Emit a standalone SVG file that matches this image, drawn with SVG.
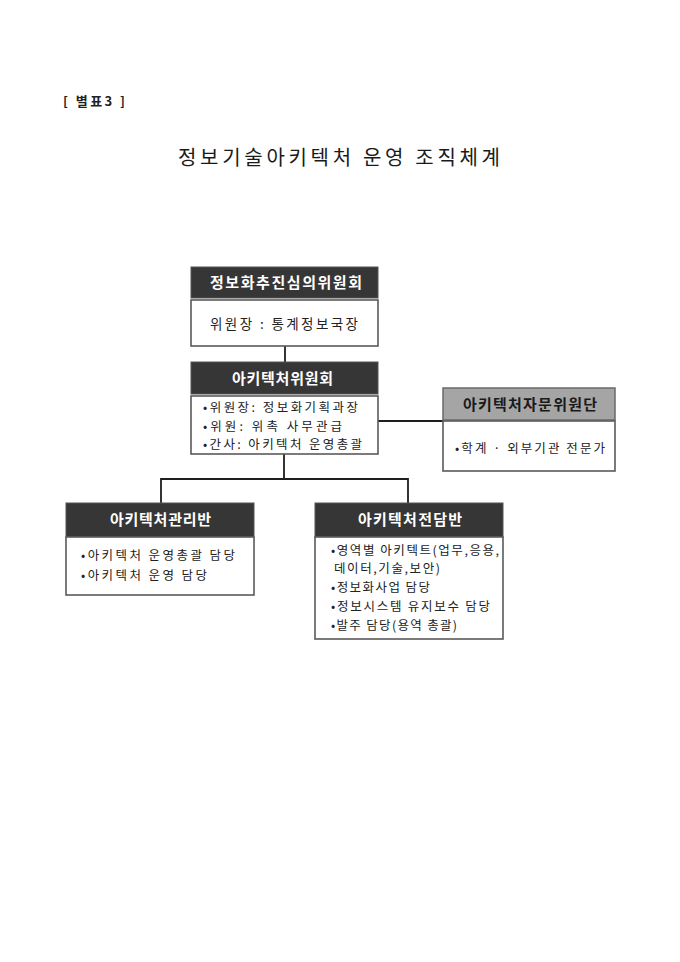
<svg xmlns="http://www.w3.org/2000/svg" width="680" height="962" viewBox="0 0 680 962">
<style>
  text { font-family: "Malgun Gothic", "Noto Sans CJK KR", "Noto Sans", sans-serif; }
  .hdr { fill: #363636; stroke: #555555; stroke-width: 1; }
  .hdr-gray { fill: #a5a5a5; stroke: #6a6a6a; stroke-width: 1.5; }
  .body { fill: #ffffff; stroke: #5a5a5a; stroke-width: 1.6; }
  .ht { fill: #ffffff; font-size: 15px; font-weight: bold; }
  .htd { fill: #1a1a1a; font-size: 15px; font-weight: bold; }
  .it { fill: #222222; font-size: 12.5px; }
  .conn { stroke: #1e1e1e; stroke-width: 1.8; fill: none; }
</style>
<rect width="680" height="962" fill="#ffffff"/>
<text x="63" y="106" style="font-size:13px;font-weight:bold;fill:#222" xml:space="preserve" textLength="62" lengthAdjust="spacing">[ 별표3 ]</text>
<text x="178" y="165" style="font-size:20px;fill:#1a1a1a" textLength="322" lengthAdjust="spacing">정보기술아키텍처 운영 조직체계</text>

<g id="connectors">
  <path class="conn" d="M285,346 V362"/>
  <path class="conn" d="M378,421 H443"/>
  <path class="conn" d="M284,454 V479 M161,479 H408 M161,478 V503 M408,478 V503"/>
</g>

<g id="node-council">
  <rect class="hdr" x="191" y="267" width="187" height="31"/>
  <text class="ht" x="210" y="288" textLength="152" lengthAdjust="spacing">정보화추진심의위원회</text>
  <rect class="body" x="191" y="300" width="187" height="46"/>
  <text class="it" x="210" y="329" style="font-size:13.5px" textLength="148" lengthAdjust="spacing">위원장 : 통계정보국장</text>
</g>

<g id="node-committee">
  <rect class="hdr" x="191" y="362" width="187" height="32"/>
  <text class="ht" x="232" y="384" textLength="101" lengthAdjust="spacing">아키텍처위원회</text>
  <rect class="body" x="191" y="396" width="187" height="58"/>
  <text class="it" x="203" y="412" textLength="155" lengthAdjust="spacing">•위원장: 정보화기획과장</text>
  <text class="it" x="203" y="431" textLength="139" lengthAdjust="spacing">•위원: 위촉 사무관급</text>
  <text class="it" x="203" y="449" textLength="159" lengthAdjust="spacing">•간사: 아키텍처 운영총괄</text>
</g>

<g id="node-advisory">
  <rect class="hdr-gray" x="443" y="388" width="172" height="32"/>
  <text class="htd" x="463" y="410" textLength="134" lengthAdjust="spacing">아키텍처자문위원단</text>
  <rect class="body" x="443" y="421" width="172" height="50"/>
  <text class="it" x="455" y="453" textLength="150" lengthAdjust="spacing">•학계 · 외부기관 전문가</text>
</g>

<g id="node-management">
  <rect class="hdr" x="66" y="503" width="188" height="34"/>
  <text class="ht" x="110" y="525" textLength="101" lengthAdjust="spacing">아키텍처관리반</text>
  <rect class="body" x="66" y="537" width="188" height="58"/>
  <text class="it" x="81" y="560" textLength="154" lengthAdjust="spacing">•아키텍처 운영총괄 담당</text>
  <text class="it" x="81" y="580" textLength="126" lengthAdjust="spacing">•아키텍처 운영 담당</text>
</g>

<g id="node-dedicated">
  <rect class="hdr" x="315" y="503" width="188" height="34"/>
  <text class="ht" x="358" y="525" textLength="104" lengthAdjust="spacing">아키텍처전담반</text>
  <rect class="body" x="315" y="537" width="188" height="102"/>
  <text class="it" x="331" y="555" textLength="168" lengthAdjust="spacing">•영역별 아키텍트(업무,응용,</text>
  <text class="it" x="334" y="573" textLength="106" lengthAdjust="spacing">데이터,기술,보안)</text>
  <text class="it" x="331" y="592" textLength="99" lengthAdjust="spacing">•정보화사업 담당</text>
  <text class="it" x="331" y="611" textLength="159" lengthAdjust="spacing">•정보시스템 유지보수 담당</text>
  <text class="it" x="331" y="630" textLength="126" lengthAdjust="spacing">•발주 담당(용역 총괄)</text>
</g>
</svg>
